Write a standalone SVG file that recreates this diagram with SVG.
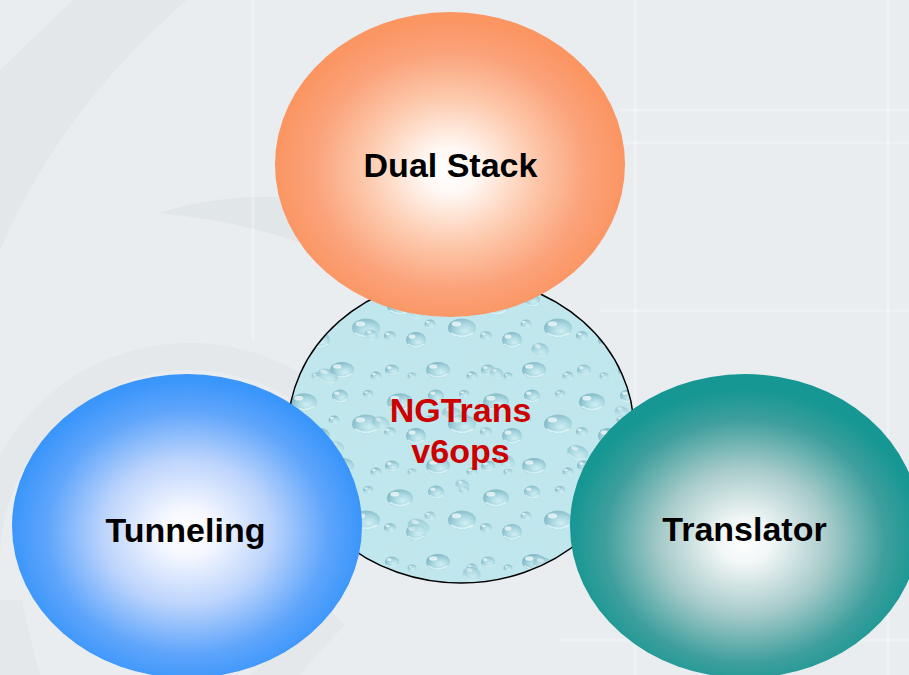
<svg xmlns="http://www.w3.org/2000/svg" xmlns:xlink="http://www.w3.org/1999/xlink" width="909" height="675" viewBox="0 0 909 675">
  <style>
    .lbl { font-family: "Liberation Sans", Arial, sans-serif; font-weight: bold; font-size: 34px; text-anchor: middle; fill: #000000; }
    .red { fill: #cc0000; }
    .grid { stroke: #ffffff; stroke-opacity: 0.3; stroke-width: 3; }
    .bg { fill: #dfe3e6; }
  </style>
  <defs>
    <radialGradient id="gOrange" cx="0.5" cy="0.52" r="0.5">
      <stop offset="0" stop-color="#ffffff"/>
      <stop offset="0.15" stop-color="#fff8f4"/>
      <stop offset="0.48" stop-color="#fdc9ac"/>
      <stop offset="0.78" stop-color="#fba27a"/>
      <stop offset="1" stop-color="#fb9562"/>
    </radialGradient>
    <radialGradient id="gBlue" cx="0.5" cy="0.52" r="0.5">
      <stop offset="0" stop-color="#ffffff"/>
      <stop offset="0.15" stop-color="#f6f8ff"/>
      <stop offset="0.48" stop-color="#bcd4fc"/>
      <stop offset="0.8" stop-color="#5fa5fb"/>
      <stop offset="1" stop-color="#3b96fb"/>
    </radialGradient>
    <radialGradient id="gTeal" cx="0.5" cy="0.55" r="0.5">
      <stop offset="0" stop-color="#ffffff"/>
      <stop offset="0.15" stop-color="#f1f6f6"/>
      <stop offset="0.48" stop-color="#a7cbca"/>
      <stop offset="0.8" stop-color="#3e9f9d"/>
      <stop offset="1" stop-color="#169793"/>
    </radialGradient>
    <radialGradient id="gDrop" cx="0.62" cy="0.65" r="0.62">
      <stop offset="0" stop-color="#d3f1f5"/>
      <stop offset="0.5" stop-color="#a9d8e1"/>
      <stop offset="1" stop-color="#79b3c1"/>
    </radialGradient>
    <g id="drop">
      <ellipse cx="0" cy="0" rx="10" ry="8" fill="url(#gDrop)" opacity="0.85"/>
      <ellipse cx="-4" cy="-3.5" rx="3.4" ry="2.2" fill="#ffffff" opacity="0.7"/>
      <path d="M -8 4 Q 0 10 8 4" fill="none" stroke="#e8fbfd" stroke-width="1.4" opacity="0.8"/>
    </g>
    <pattern id="water" patternUnits="userSpaceOnUse" width="96" height="96">
      <rect width="96" height="96" fill="#c0e7ed"/>
      <use xlink:href="#drop" transform="translate(16,18) scale(1.3,1.1)"/>
      <use xlink:href="#drop" transform="translate(52,12) scale(0.8)"/>
      <use xlink:href="#drop" transform="translate(78,40) scale(1.4,1.2)"/>
      <use xlink:href="#drop" transform="translate(32,52) scale(1.0)"/>
      <use xlink:href="#drop" transform="translate(8,82) scale(0.7)"/>
      <use xlink:href="#drop" transform="translate(54,82) scale(1.2,1.0)"/>
      <use xlink:href="#drop" transform="translate(88,88) scale(0.55)"/>
      <use xlink:href="#drop" transform="translate(46,36) scale(0.55)"/>
      <use xlink:href="#drop" transform="translate(6,48) scale(0.6)"/>
      <use xlink:href="#drop" transform="translate(80,10) scale(0.5)"/>
      <use xlink:href="#drop" transform="translate(28,88) scale(0.45)"/>
    </pattern>
    <pattern id="water2" patternUnits="userSpaceOnUse" width="131" height="117" patternTransform="rotate(17)">
      <use xlink:href="#drop" transform="translate(30,30) scale(1.1,0.9)"/>
      <use xlink:href="#drop" transform="translate(95,60) scale(0.9)"/>
      <use xlink:href="#drop" transform="translate(60,95) scale(0.7)"/>
    </pattern>
    <filter id="noise" x="0" y="0" width="100%" height="100%">
      <feTurbulence type="fractalNoise" baseFrequency="0.03" numOctaves="2" seed="4" result="t"/>
      <feColorMatrix in="t" type="matrix" values="0 0 0 0 0.55  0 0 0 0 0.78  0 0 0 0 0.83  0 0 0 1.2 -0.45"/>
      <feComposite in2="SourceGraphic" operator="in"/>
    </filter>
  </defs>

  <!-- background -->
  <rect width="909" height="675" fill="#e9edf0"/>
  <path class="bg" d="M 73 0 L 187 0 Q 60 110 0 250 L 0 70 Z" opacity="0.6"/>
  <path class="bg" d="M 160 213 Q 230 190 320 200 L 320 250 Q 250 222 160 213 Z" opacity="0.8"/>
  <path class="bg" d="M -27 560 A 217 217 0 0 1 407 560 L 380 560 A 190 190 0 0 0 0 560 Z" opacity="0.5"/>
  <path class="bg" d="M 0 600 L 22 600 Q 30 640 40 675 L 0 675 Z" opacity="0.5"/>
  <path class="bg" d="M 250 675 Q 290 640 330 610 L 345 625 Q 320 650 300 675 Z" opacity="0.5"/>
  <line class="grid" x1="635" y1="0" x2="635" y2="675"/>
  <line class="grid" x1="888" y1="0" x2="888" y2="675"/>
  <line class="grid" x1="253" y1="0" x2="253" y2="340"/>
  <line class="grid" x1="620" y1="110" x2="909" y2="110"/>
  <line class="grid" x1="620" y1="143" x2="909" y2="143"/>
  <line class="grid" x1="600" y1="311" x2="909" y2="311"/>
  <line class="grid" x1="560" y1="640" x2="909" y2="640"/>

  <g id="connectors"></g>

  <g id="node-center">
    <ellipse cx="461" cy="430" rx="173" ry="153" fill="url(#water)"/>
    <ellipse cx="461" cy="430" rx="173" ry="153" fill="url(#water2)" opacity="0.7"/>
    <ellipse cx="461" cy="430" rx="173" ry="153" fill="#ffffff" filter="url(#noise)" opacity="0.5"/>
    <ellipse cx="461" cy="430" rx="173" ry="153" fill="none" stroke="#000000" stroke-width="1.5"/>
  </g>

  <g id="node-dualstack">
    <ellipse cx="450" cy="164.5" rx="175" ry="152.5" fill="url(#gOrange)"/>
    <text class="lbl" x="450.5" y="177">Dual Stack</text>
  </g>

  <g id="node-tunneling">
    <ellipse cx="187" cy="526" rx="175" ry="152" fill="url(#gBlue)"/>
    <text class="lbl" x="185.5" y="542">Tunneling</text>
  </g>

  <g id="node-translator">
    <ellipse cx="745" cy="526" rx="175" ry="152" fill="url(#gTeal)"/>
    <text class="lbl" x="744.5" y="541">Translator</text>
  </g>

  <g id="label-center">
    <text class="lbl red" x="460.5" y="422">NGTrans</text>
    <text class="lbl red" x="460.5" y="463">v6ops</text>
  </g>
</svg>
